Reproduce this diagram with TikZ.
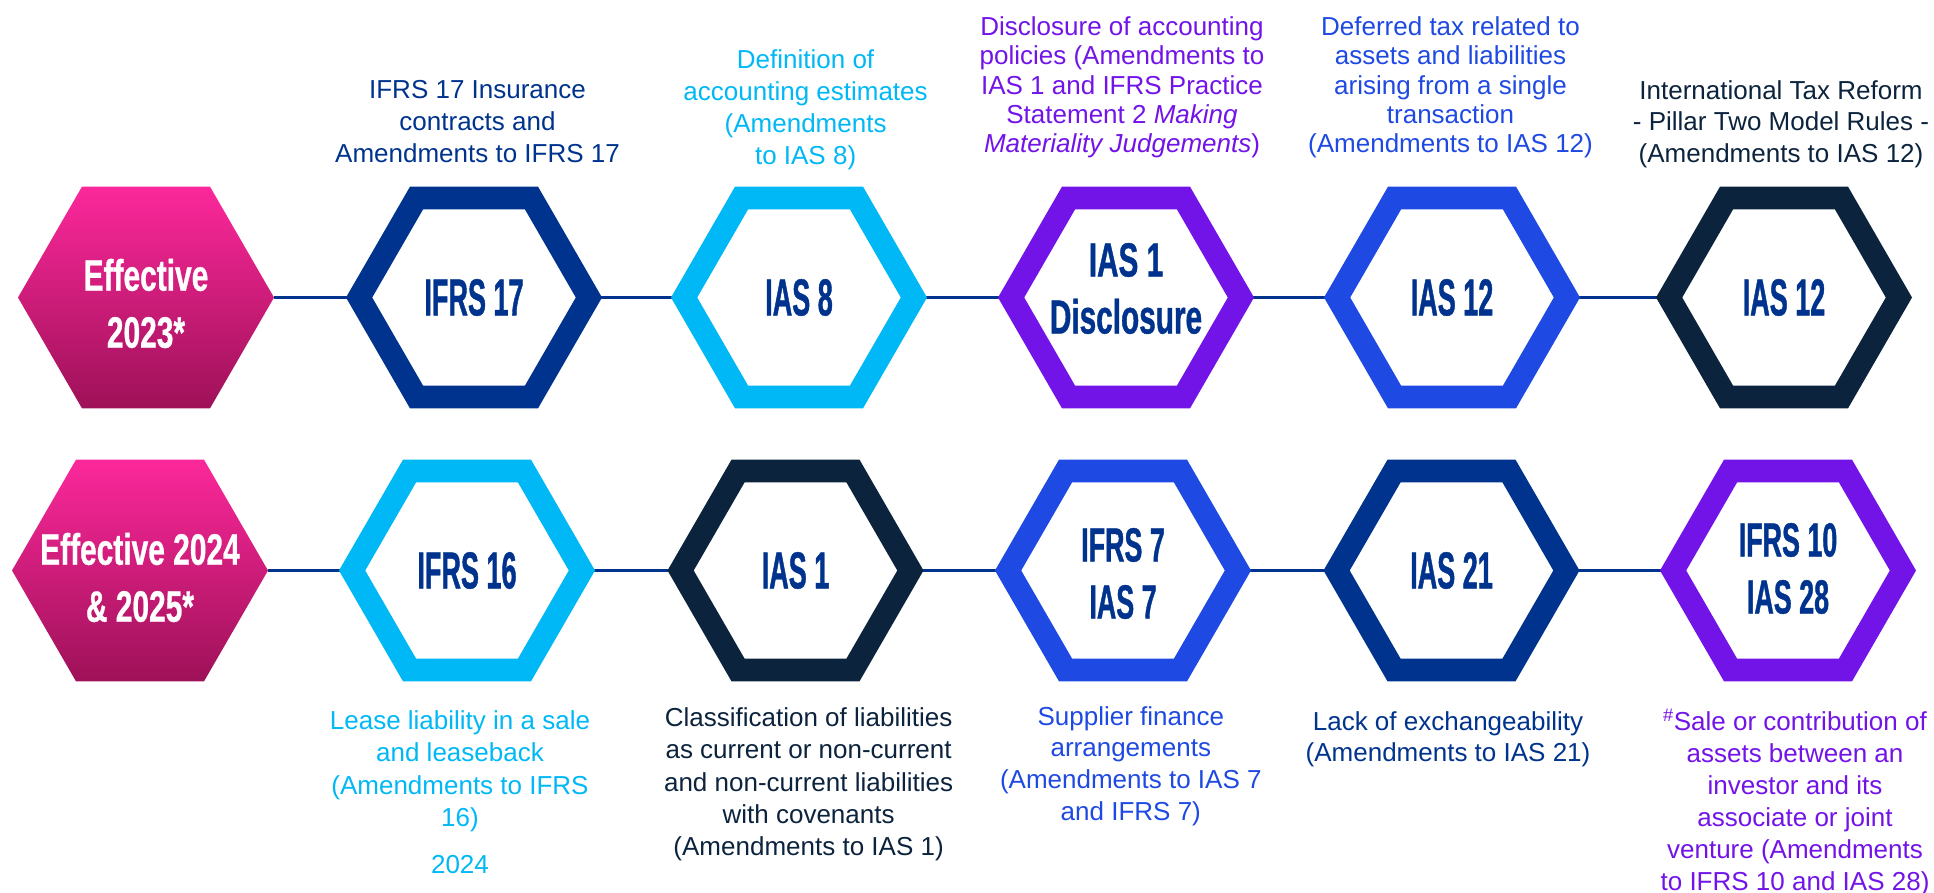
\documentclass[tikz,border=0pt]{standalone}
\usepackage{fontspec}
\setmainfont{Liberation Sans}
\newfontfamily\hexfont[FakeStretch=0.52,FakeBold=0.8]{Liberation Sans}
\newfontfamily\hexfontb[FakeStretch=0.56,FakeBold=0.8]{Liberation Sans}
\newfontfamily\discfont[FakeStretch=0.62,FakeBold=0.8]{Liberation Sans}
\newfontfamily\efffont[FakeStretch=0.68,FakeBold=0.6]{Liberation Sans}
\usetikzlibrary{shapes.geometric,backgrounds}
\definecolor{kdark}{RGB}{0,51,141}
\definecolor{kcyan}{RGB}{0,184,245}
\definecolor{kpurple}{RGB}{114,19,232}
\definecolor{kblue}{RGB}{30,73,226}
\definecolor{knavy}{RGB}{12,35,61}
\definecolor{pinktop}{RGB}{252,40,155}
\definecolor{pinkbot}{RGB}{158,17,88}
\begin{document}
\begin{tikzpicture}[x=1pt,y=-1pt,
  hexo/.style={regular polygon, regular polygon sides=6, minimum size=229.8pt,
    inner sep=0pt, outer sep=0pt, line width=22.7pt, draw=#1, fill=white},
  hexf/.style={regular polygon, regular polygon sides=6, minimum size=256pt,
    inner sep=0pt, outer sep=0pt, top color=pinktop, bottom color=pinkbot, draw=none},
  lab/.style={inner sep=0pt, text=kdark, align=center,
    font=\hexfont\bfseries\fontsize{52}{57}\selectfont},
  labtwo/.style={inner sep=0pt, text=kdark, align=center,
    font=\hexfontb\bfseries\fontsize{48}{57}\selectfont},
  efflab/.style={inner sep=0pt, text=white, align=center,
    font=\efffont\bfseries\fontsize{44}{57}\selectfont},
  desc/.style={inner sep=0pt, anchor=north, align=center, text=#1,
    font=\fontsize{26}{32}\selectfont},
  conn/.style={draw=kdark, line width=2.2pt}
]
\path[use as bounding box] (0,0) rectangle (1934,893);

% top row hexagons
\node[hexf] (t1) at (146,297.5) {};
\node[hexo=kdark] (t2) at (474,297.5) {};
\node[hexo=kcyan] (t3) at (799,297.5) {};
\node[hexo=kpurple] (t4) at (1126,297.5) {};
\node[hexo=kblue] (t5) at (1452,297.5) {};
\node[hexo=knavy] (t6) at (1784,297.5) {};

% bottom row hexagons
\node[hexf] (b1) at (140,570.5) {};
\node[hexo=kcyan] (b2) at (467,570.5) {};
\node[hexo=knavy] (b3) at (795.5,570.5) {};
\node[hexo=kblue] (b4) at (1123,570.5) {};
\node[hexo=kdark] (b5) at (1451.5,570.5) {};
\node[hexo=kpurple] (b6) at (1788,570.5) {};

% connectors
\begin{scope}[on background layer]
\foreach \a/\b in {t1/t2,t2/t3,t3/t4,t4/t5,t5/t6,b1/b2,b2/b3,b3/b4,b4/b5,b5/b6}
  \draw[conn] (\a.east) -- (\b.west);
\end{scope}

% hexagon labels
\node[efflab] (t1l) at ([yshift=-6pt]t1.center) {Effective\\2023*};
\node[lab] (t2l) at (t2.center) {IFRS 17};
\node[lab] (t3l) at (t3.center) {IAS 8};
\node[labtwo, font=\discfont\bfseries\fontsize{48}{57}\selectfont] (t4l) at ([yshift=9pt]t4.center) {IAS 1\\Disclosure};
\node[lab] (t5l) at (t5.center) {IAS 12};
\node[lab] (t6l) at (t6.center) {IAS 12};

\node[efflab] (b1l) at ([yshift=-7pt]b1.center) {Effective 2024\\\& 2025*};
\node[lab] (b2l) at (b2.center) {IFRS 16};
\node[lab] (b3l) at (b3.center) {IAS 1};
\node[labtwo] (b4l) at ([yshift=-3pt]b4.center) {IFRS 7\\IAS 7};
\node[lab] (b5l) at (b5.center) {IAS 21};
\node[labtwo] (b6l) at ([yshift=2pt]b6.center) {IFRS 10\\IAS 28};

% top descriptions
\node[desc=kdark] (t2d) at (477.5,80.3) {IFRS 17 Insurance\\contracts and\\Amendments to IFRS 17};
\node[desc=kcyan] (t3d) at (805.6,49.3) {Definition of\\accounting estimates\\(Amendments\\to IAS 8)};
\node[desc=kpurple, font=\fontsize{26}{29.35}\selectfont] (t4d) at (1122,16.3)
  {Disclosure of accounting\\policies (Amendments to\\IAS 1 and IFRS Practice\\Statement 2 \textit{Making}\\\textit{Materiality Judgements})};
\node[desc=kblue, font=\fontsize{26}{29.35}\selectfont] (t5d) at (1450.5,16.3)
  {Deferred tax related to\\assets and liabilities\\arising from a single\\transaction\\(Amendments to IAS 12)};
\node[desc=knavy, font=\fontsize{26}{31.5}\selectfont] (t6d) at (1781,80)
  {International Tax Reform\\- Pillar Two Model Rules -\\(Amendments to IAS 12)};

% bottom descriptions
\node[desc=kcyan, font=\fontsize{26}{32.4}\selectfont] (b2d) at (460,710.3)
  {Lease liability in a sale\\and leaseback\\(Amendments to IFRS\\16)\\[14.5pt]2024};
\node[desc=knavy, font=\fontsize{26}{32.2}\selectfont] (b3d) at (808.6,707.7)
  {Classification of liabilities\\as current or non-current\\and non-current liabilities\\with covenants\\(Amendments to IAS 1)};
\node[desc=kblue, font=\fontsize{26}{31.7}\selectfont] (b4d) at (1130.8,706)
  {Supplier finance\\arrangements\\(Amendments to IAS 7\\and IFRS 7)};
\node[desc=kdark, font=\fontsize{26}{31.7}\selectfont] (b5d) at (1448,711)
  {Lack of exchangeability\\(Amendments to IAS 21)};
\node[desc=kpurple, font=\fontsize{26}{32}\selectfont] (b6d) at (1795,709.3)
  {\textsuperscript{\#}Sale or contribution of\\assets between an\\investor and its\\associate or joint\\venture (Amendments\\to IFRS 10 and IAS 28)};
\end{tikzpicture}
\end{document}
